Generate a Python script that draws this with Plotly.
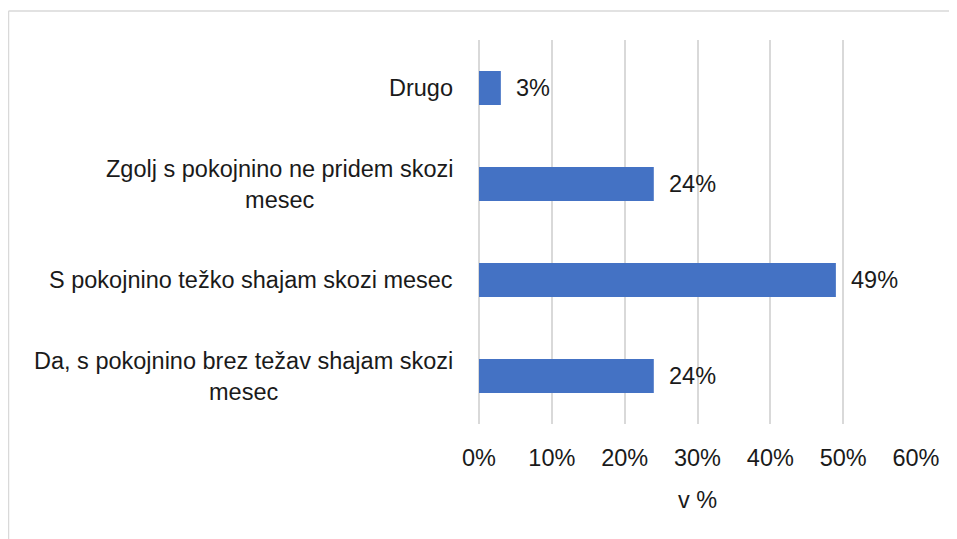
import plotly.graph_objects as go

categories = [
    "Da, s pokojnino brez težav shajam skozi<br>mesec",
    "S pokojnino težko shajam skozi mesec",
    "Zgolj s pokojnino ne pridem skozi<br>mesec",
    "Drugo",
]
values = [24, 49, 24, 3]
x_ticks = [0, 10, 20, 30, 40, 50, 60]
x_tick_labels = ["0%", "10%", "20%", "30%", "40%", "50%", "60%"]
axis_title = "v %"

# page body has 8px default margin
OFF = 8
W, H = 957 - OFF, 539 - OFF
ML, MR, MT, MB = 479 - OFF, 41, 40 - OFF, 115
FONT = "Liberation Sans"
FS = 23.5
TXT = "#1a1a1a"
GRID = "#d9d9d9"

fig = go.Figure()
fig.add_trace(go.Bar(
    y=list(range(len(categories))), x=values, orientation="h",
    marker=dict(color="#4472C4", line=dict(width=0)),
    hoverinfo="skip",
))

annotations = []
for i, (c, v) in enumerate(zip(categories, values)):
    annotations.append(dict(
        x=0, xref="paper", y=i, yref="y", text=c, showarrow=False,
        xanchor="right", yanchor="middle", align="center", xshift=-24,
        font=dict(family=FONT, size=FS, color=TXT),
    ))
    annotations.append(dict(
        x=v, xref="x", y=i, yref="y", text=f"{v}%", showarrow=False,
        xanchor="left", yanchor="middle", xshift=13,
        font=dict(family=FONT, size=FS, color=TXT),
    ))

pw = W - ML - MR
ph = H - MT - MB
x0p = (8.5 - OFF - ML) / pw
y1p = (ph + MT - (11 - OFF)) / ph
shapes = [
    dict(type="line", xref="paper", yref="paper", x0=x0p, x1=x0p, y0=-1, y1=y1p,
         line=dict(color=GRID, width=1.5)),
    dict(type="line", xref="paper", yref="paper", x0=x0p, x1=2, y0=y1p, y1=y1p,
         line=dict(color=GRID, width=1.5)),
]

fig.update_layout(
    width=W, height=H,
    margin=dict(l=ML, r=MR, t=MT, b=MB),
    paper_bgcolor="white", plot_bgcolor="white",
    showlegend=False,
    bargap=0.646,
    annotations=annotations,
    shapes=shapes,
    font=dict(family=FONT, size=FS, color=TXT),
    xaxis=dict(
        range=[0, 60], tickvals=x_ticks, ticktext=x_tick_labels,
        showgrid=True, gridcolor=GRID, gridwidth=1.5,
        zeroline=True, zerolinecolor=GRID, zerolinewidth=1.5,
        showline=False, ticks="outside", ticklen=13, tickcolor="rgba(0,0,0,0)",
        tickfont=dict(family=FONT, size=FS, color=TXT),
        title=dict(text=axis_title, standoff=21, font=dict(family=FONT, size=FS, color=TXT)),
        fixedrange=True,
    ),
    yaxis=dict(
        range=[-0.5, len(categories) - 0.5], showticklabels=False,
        showgrid=False, zeroline=False, showline=False, fixedrange=True,
    ),
)

fig.write_html("out.html")
